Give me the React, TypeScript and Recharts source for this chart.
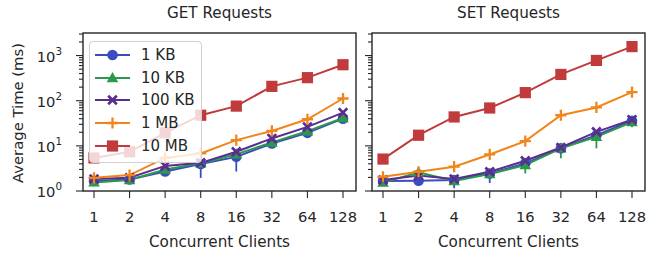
import React from "react";
import { ErrorBar, Line, LineChart, XAxis, YAxis } from "recharts";

const FONT = "'DejaVu Sans', sans-serif";
const INK = "#262626";

// categories
const clients = ["1", "2", "4", "8", "16", "32", "64", "128"];

// GET panel (ms)
const get1KB = [1.66, 1.8, 2.7, 3.95, 5.7, 11.3, 19.4, 40];
const get10KB = [1.55, 1.75, 3.0, 4.1, 6.5, 11.9, 21, 41.5];
const get100KB = [1.84, 1.96, 3.6, 4.2, 7.4, 14.6, 26.3, 54.6];
const get1MB = [1.96, 2.25, 5.4, 6.8, 13.4, 21.4, 38.8, 112];
const get10MB = [5.4, 7.4, 19.4, 47.7, 76, 208, 324, 627];
// [below, above]
const get1KBErr = [[0, 0], [0, 0], [0, 0], [2.0, 1.0], [3.0, 2.5], [0, 0], [3, 2], [0, 0]];
const get10KBErr = [[0, 0], [0, 0], [0, 0], [0, 0], [0, 0], [3, 1], [0, 0], [0, 0]];

// SET panel (ms)
const set1KB = [1.66, 1.69, 1.75, 2.45, 4.1, 8.8, 17.2, 36];
const set10KB = [1.53, 2.6, 1.66, 2.37, 3.75, 8.8, 15.8, 33.8];
const set100KB = [1.75, 2.2, 1.84, 2.67, 4.67, 9.2, 20.4, 38];
const set1MB = [2.07, 2.67, 3.45, 6.45, 12.7, 47.6, 71, 155];
const set10MB = [5.1, 17.2, 43.7, 69, 151, 382, 780, 1580];
const set1KBErr = [[0, 0], [0, 0], [0.6, 0.2], [0.95, 0.3], [0, 0], [0, 0], [0, 0], [0, 0]];
const set10KBErr = [[0, 0], [0, 0], [0, 0], [0, 0], [1.3, 0.8], [3.5, 2], [7, 3], [8, 4]];

// log axis ticks
const yMajorTicks = [1, 10, 100, 1000];
const yExponents = ["0", "1", "2", "3"];
const yMinorTicks = [
  2, 3, 4, 5, 6, 7, 8, 9, 20, 30, 40, 50, 60, 70, 80, 90,
  200, 300, 400, 500, 600, 700, 800, 900, 2000, 3000,
];

const series = [
  { key: "kb1", name: "1 KB", color: "#3b4cc0", shape: "circle" },
  { key: "kb10", name: "10 KB", color: "#2a9a4a", shape: "triangle" },
  { key: "kb100", name: "100 KB", color: "#5b2d8e", shape: "x" },
  { key: "mb1", name: "1 MB", color: "#f2851a", shape: "plus" },
  { key: "mb10", name: "10 MB", color: "#c13a3c", shape: "square" },
];

const getRows = clients.map((c, i) => ({
  clients: c,
  kb1: get1KB[i],
  kb10: get10KB[i],
  kb100: get100KB[i],
  mb1: get1MB[i],
  mb10: get10MB[i],
  kb1Err: get1KBErr[i],
  kb10Err: get10KBErr[i],
}));

const setRows = clients.map((c, i) => ({
  clients: c,
  kb1: set1KB[i],
  kb10: set10KB[i],
  kb100: set100KB[i],
  mb1: set1MB[i],
  mb10: set10MB[i],
  kb1Err: set1KBErr[i],
  kb10Err: set10KBErr[i],
}));

function Marker({ shape, cx, cy, color }: { shape: string; cx: number; cy: number; color: string }) {
  if (cx == null || cy == null || isNaN(cx) || isNaN(cy)) return null;
  switch (shape) {
    case "circle":
      return <circle cx={cx} cy={cy} r={5.3} fill={color} />;
    case "triangle":
      return (
        <polygon
          points={`${cx},${cy - 6} ${cx - 5.8},${cy + 4.2} ${cx + 5.8},${cy + 4.2}`}
          fill={color}
        />
      );
    case "x":
      return (
        <path
          d={`M${cx - 4.3} ${cy - 4.3}L${cx + 4.3} ${cy + 4.3}M${cx - 4.3} ${cy + 4.3}L${cx + 4.3} ${cy - 4.3}`}
          stroke={color}
          strokeWidth={2.7}
          fill="none"
        />
      );
    case "plus":
      return (
        <path
          d={`M${cx - 5.6} ${cy}L${cx + 5.6} ${cy}M${cx} ${cy - 5.6}L${cx} ${cy + 5.6}`}
          stroke={color}
          strokeWidth={2.3}
          fill="none"
        />
      );
    default:
      return <rect x={cx - 5.6} y={cy - 5.6} width={11.2} height={11.2} fill={color} />;
  }
}

function YTick(props: any) {
  const { x, y, payload, showLabels } = props;
  const idx = yMajorTicks.indexOf(payload.value);
  const major = idx >= 0;
  return (
    <g>
      <line x1={x - (major ? 7 : 4)} x2={x} y1={y} y2={y} stroke={INK} strokeWidth={1.1} />
      {major && showLabels && (
        <text x={x - 21} y={y + 6} textAnchor="end" fill={INK} fontSize={14.7} fontFamily={FONT}>
          10
          <tspan dy={-7} fontSize={10.3}>
            {yExponents[idx]}
          </tspan>
        </text>
      )}
    </g>
  );
}

function XTick(props: any) {
  const { x, y, payload } = props;
  return (
    <g>
      <line x1={x} x2={x} y1={y} y2={y + 7} stroke={INK} strokeWidth={1.1} />
      <text x={x} y={y + 31} textAnchor="middle" fill={INK} fontSize={14.7} fontFamily={FONT}>
        {payload.value}
      </text>
    </g>
  );
}

function Panel({ rows, showLabels, width, yWidth }: { rows: any[]; showLabels: boolean; width: number; yWidth: number }) {
  return (
    <LineChart
      width={width}
      height={256}
      data={rows}
      margin={{ top: 33, right: width - yWidth - 273, bottom: 35, left: 0 }}
    >
      <XAxis
        dataKey="clients"
        height={30}
        padding={{ left: 11, right: 13 }}
        axisLine={false}
        tickLine={false}
        tickSize={0}
        tickMargin={0}
        interval={0}
        tick={<XTick />}
      />
      <YAxis
        scale="log"
        domain={[1, 3162]}
        allowDataOverflow
        width={yWidth}
        ticks={[...yMajorTicks, ...yMinorTicks]}
        interval={0}
        axisLine={false}
        tickLine={false}
        tickSize={0}
        tickMargin={0}
        tick={<YTick showLabels={showLabels} />}
      />
      {series.map((s) => (
        <Line
          key={s.key}
          dataKey={s.key}
          name={s.name}
          stroke={s.color}
          strokeWidth={2}
          isAnimationActive={false}
          dot={(p: any) => (
            <Marker key={`${s.key}-${p.index}`} shape={s.shape} cx={p.cx} cy={p.cy} color={s.color} />
          )}
          activeDot={false}
        >
          {(s.key === "kb1" || s.key === "kb10") && (
            <ErrorBar
              dataKey={`${s.key}Err`}
              direction="y"
              width={0}
              stroke={s.color}
              strokeWidth={1.8}
              isAnimationActive={false}
            />
          )}
        </Line>
      ))}
    </LineChart>
  );
}

function Legend() {
  return (
    <div
      style={{
        position: "absolute",
        left: 89,
        top: 41,
        width: 111,
        height: 120,
        background: "rgba(255,255,255,0.8)",
        border: "1.3px solid #d0d0d0",
        borderRadius: 4,
        fontFamily: FONT,
        fontSize: 15,
        color: INK,
      }}
    >
      {series.map((s, i) => (
        <div
          key={s.key}
          style={{ position: "absolute", left: 0, top: 13 + i * 22.7 - 11, height: 22, display: "flex", alignItems: "center" }}
        >
          <svg width={46} height={22} style={{ display: "block" }}>
            <line x1={5} x2={40} y1={11} y2={11} stroke={s.color} strokeWidth={2} />
            <Marker shape={s.shape} cx={22.5} cy={11} color={s.color} />
          </svg>
          <span style={{ marginLeft: 5, whiteSpace: "nowrap" }}>{s.name}</span>
        </div>
      ))}
    </div>
  );
}

export default function App() {
  return (
    <div style={{ position: "absolute", left: 0, top: 0, width: 647, height: 256, background: "#fff" }}>
      <div style={{ position: "absolute", left: 0, top: 0 }}>
        <Panel rows={getRows} showLabels width={360} yWidth={83} />
      </div>
      <div style={{ position: "absolute", left: 360, top: 0 }}>
        <Panel rows={setRows} showLabels={false} width={287} yWidth={12} />
      </div>
      <Legend />
      <svg
        width={647}
        height={256}
        style={{ position: "absolute", left: 0, top: 0, pointerEvents: "none" }}
        fontFamily={FONT}
        fill={INK}
      >
        <rect x={83} y={33} width={273} height={158} fill="none" stroke={INK} strokeWidth={1.4} />
        <rect x={372} y={33} width={273} height={158} fill="none" stroke={INK} strokeWidth={1.4} />
        <text x={219.5} y={17.6} textAnchor="middle" fontSize={15.2}>GET Requests</text>
        <text x={508.5} y={17.6} textAnchor="middle" fontSize={15.2}>SET Requests</text>
        <text x={219.5} y={247} textAnchor="middle" fontSize={15.2}>Concurrent Clients</text>
        <text x={508.5} y={247} textAnchor="middle" fontSize={15.2}>Concurrent Clients</text>
        <text
          x={0}
          y={0}
          transform="translate(22.5 113) rotate(-90)"
          textAnchor="middle"
          fontSize={14.8}
        >
          Average Time (ms)
        </text>
      </svg>
    </div>
  );
}
